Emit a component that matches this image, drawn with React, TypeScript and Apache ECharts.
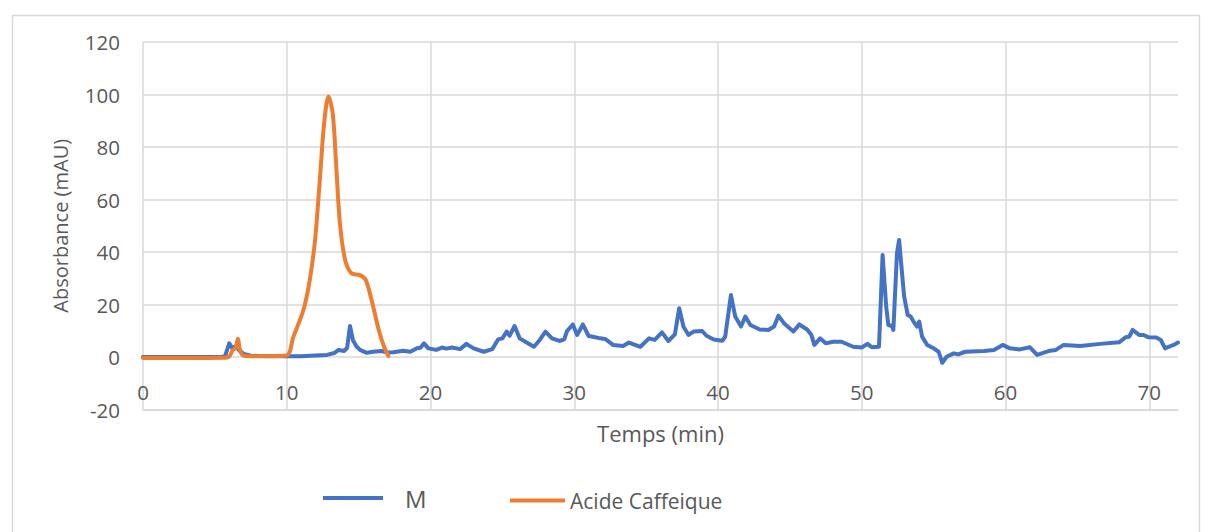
import React, { useEffect, useRef } from "react";
import * as echarts from "echarts";

const xTicksInterval = 10;
const yTickValues = [-20, 0, 20, 40, 60, 80, 100, 120];

const mTime = [0, 3, 5.5, 5.7, 6.0, 6.2, 6.45, 6.7, 7.0, 7.5, 8, 10, 11, 12, 12.8, 13.3, 13.6, 14.0, 14.2, 14.4, 14.6, 14.85, 15.1, 15.57, 16.0, 16.6, 17.0, 17.4, 18.1, 18.6, 19.05, 19.3, 19.55, 19.85, 20.4, 20.8, 21.1, 21.5, 22.06, 22.5, 23.0, 23.7, 24.3, 24.7, 25.0, 25.3, 25.5, 25.85, 26.2, 26.6, 27.2, 27.6, 28.0, 28.45, 28.97, 29.3, 29.5, 29.9, 30.2, 30.6, 31.0, 31.3, 31.8, 32.15, 32.7, 33.4, 33.8, 34.6, 35.2, 35.6, 36.1, 36.55, 37.0, 37.3, 37.6, 37.95, 38.3, 38.9, 39.2, 39.7, 40.3, 40.5, 40.9, 41.2, 41.6, 41.9, 42.25, 42.9, 43.5, 43.9, 44.2, 44.6, 45.25, 45.65, 46.2, 46.5, 46.7, 47.1, 47.5, 48.0, 48.6, 49.4, 50.0, 50.4, 50.7, 51.2, 51.45, 51.7, 51.85, 52.1, 52.2, 52.45, 52.6, 52.7, 52.95, 53.2, 53.4, 53.6, 53.85, 54.0, 54.2, 54.55, 55.0, 55.35, 55.6, 55.9, 56.4, 56.7, 57.2, 58.5, 59.2, 59.8, 60.3, 61.0, 61.7, 62.2, 63.1, 63.5, 64.05, 65.2, 66.6, 67.9, 68.35, 68.6, 68.85, 69.3, 69.6, 69.96, 70.5, 70.8, 71.1, 71.35, 71.7, 72.0];
const mValue = [0, 0, 0.1, 0.2, 5.2, 3.5, 4.0, 2.5, 1.2, 0.5, 0.4, 0.3, 0.3, 0.6, 0.8, 1.5, 2.7, 2.3, 3.5, 11.8, 6.5, 4.0, 2.7, 1.6, 2.0, 2.3, 1.7, 1.8, 2.4, 2.0, 3.3, 3.5, 5.2, 3.3, 2.7, 3.6, 3.2, 3.6, 3.0, 5.0, 3.3, 2.0, 3.0, 6.7, 7.1, 9.7, 8.1, 11.8, 7.1, 5.8, 3.9, 6.5, 9.7, 7.1, 6.1, 6.7, 9.9, 12.4, 8.4, 12.4, 8.0, 7.7, 7.1, 6.9, 4.6, 4.2, 5.5, 3.9, 7.1, 6.5, 9.4, 6.1, 8.6, 18.6, 11.5, 8.4, 9.7, 9.9, 8.1, 6.7, 6.2, 7.7, 23.6, 15.4, 11.6, 15.4, 12.2, 10.5, 10.3, 11.6, 15.7, 12.8, 9.7, 12.4, 10.5, 8.4, 4.6, 7.1, 5.2, 5.8, 5.8, 3.9, 3.6, 5.0, 3.7, 3.9, 38.9, 19.2, 12.2, 11.8, 10.3, 39.5, 44.6, 38.2, 23.0, 16.0, 15.4, 13.5, 11.6, 13.5, 7.7, 4.6, 3.3, 2.0, -2.2, 0.1, 1.4, 1.0, 2.0, 2.3, 2.7, 4.6, 3.3, 2.9, 3.7, 0.8, 2.4, 2.7, 4.6, 4.2, 5.0, 5.6, 7.5, 7.7, 10.3, 8.4, 8.4, 7.5, 7.4, 6.5, 3.3, 3.9, 4.6, 5.5];

const acTime = [0, 3, 5.6, 6.0, 6.25, 6.45, 6.6, 6.75, 7.0, 7.5, 9.98, 10.46, 11.16, 11.6, 11.97, 12.3, 12.6, 12.9, 13.2, 13.43, 13.7, 14.06, 14.5, 15.1, 15.5, 15.9, 16.4, 16.77, 17.07];
const acValue = [-0.4, -0.4, -0.3, 0.2, 2.7, 3.5, 7.0, 2.5, 0.5, 0.3, 0.6, 7.7, 17.9, 29.3, 44.6, 67.4, 89, 99.2, 92.8, 73.8, 50.9, 37, 31.9, 31.2, 29.3, 21.7, 10.3, 3.9, 0.4];

const seriesNames = ["M", "Acide Caffeique"];
const xName = "Temps (min)";
const yName = "Absorbance (mAU)";

export default function App() {
  const ref = useRef<HTMLDivElement>(null);
  useEffect(() => {
    if (!ref.current) return;
    const chart = echarts.init(ref.current, null, { renderer: "svg" });
    const font = "'Open Sans', 'Noto Sans', sans-serif";
    const gray = "#595959";
    const gridColor = "#d9d9d9";
    chart.setOption({
      animation: false,
      textStyle: { fontFamily: font },
      graphic: [
        {
          type: "rect",
          left: 10,
          top: 13,
          shape: { width: 1187, height: 530 },
          style: { fill: "none", stroke: gridColor, lineWidth: 1.5 },
          silent: true,
        },
      ],
      grid: { left: 143, right: 28, top: 42, bottom: 122.5, containLabel: false },
      legend: [
        {
          data: [seriesNames[0]],
          left: 323,
          top: 486,
          padding: 0,
          icon: "rect",
          itemWidth: 60,
          itemHeight: 4,
          textStyle: { color: gray, fontSize: 24, fontFamily: font, padding: [0, 0, 10, 17] },
        },
        {
          data: [seriesNames[1]],
          left: 510,
          top: 490,
          padding: 0,
          icon: "rect",
          itemWidth: 55,
          itemHeight: 4,
          textStyle: { color: gray, fontSize: 21, fontFamily: font, padding: [0, 0, 2, 0] },
        },
      ],
      xAxis: {
        type: "value",
        min: 0,
        max: 72,
        interval: xTicksInterval,
        name: xName,
        nameLocation: "middle",
        nameGap: 12,
        nameTextStyle: { color: gray, fontSize: 22, fontFamily: font },
        axisLine: { show: true, onZero: false, lineStyle: { color: gridColor, width: 1.5 } },
        axisTick: { show: false },
        axisLabel: { color: gray, fontSize: 20.5, margin: -28, showMaxLabel: false },
        splitLine: { show: true, showMaxLine: false, lineStyle: { color: gridColor, width: 1.5 } },
      },
      yAxis: {
        type: "value",
        min: yTickValues[0],
        max: yTickValues[yTickValues.length - 1],
        interval: 20,
        name: yName,
        nameLocation: "middle",
        nameGap: 73,
        nameRotate: 90,
        nameTextStyle: { color: gray, fontSize: 20, fontFamily: font },
        axisLine: { show: false },
        axisTick: { show: false },
        axisLabel: { color: gray, fontSize: 20.5, margin: 23 },
        splitLine: { show: true, lineStyle: { color: gridColor, width: 1.5 } },
      },
      series: [
        {
          name: seriesNames[0],
          type: "line",
          data: mTime.map((t, i) => [t, mValue[i]]),
          showSymbol: false,
          symbol: "none",
          lineStyle: { color: "#4472C4", width: 4, join: "round", cap: "round" },
          itemStyle: { color: "#4472C4" },
          z: 2,
        },
        {
          name: seriesNames[1],
          type: "line",
          data: acTime.map((t, i) => [t, acValue[i]]),
          showSymbol: false,
          symbol: "none",
          smooth: 0.3,
          lineStyle: { color: "#ED7D31", width: 4, join: "round", cap: "round" },
          itemStyle: { color: "#ED7D31" },
          z: 3,
        },
      ],
    });
    return () => chart.dispose();
  }, []);
  return (
    <div
      ref={ref}
      style={{ position: "fixed", left: 0, top: 0, width: 1206, height: 532, background: "#fff" }}
    />
  );
}
